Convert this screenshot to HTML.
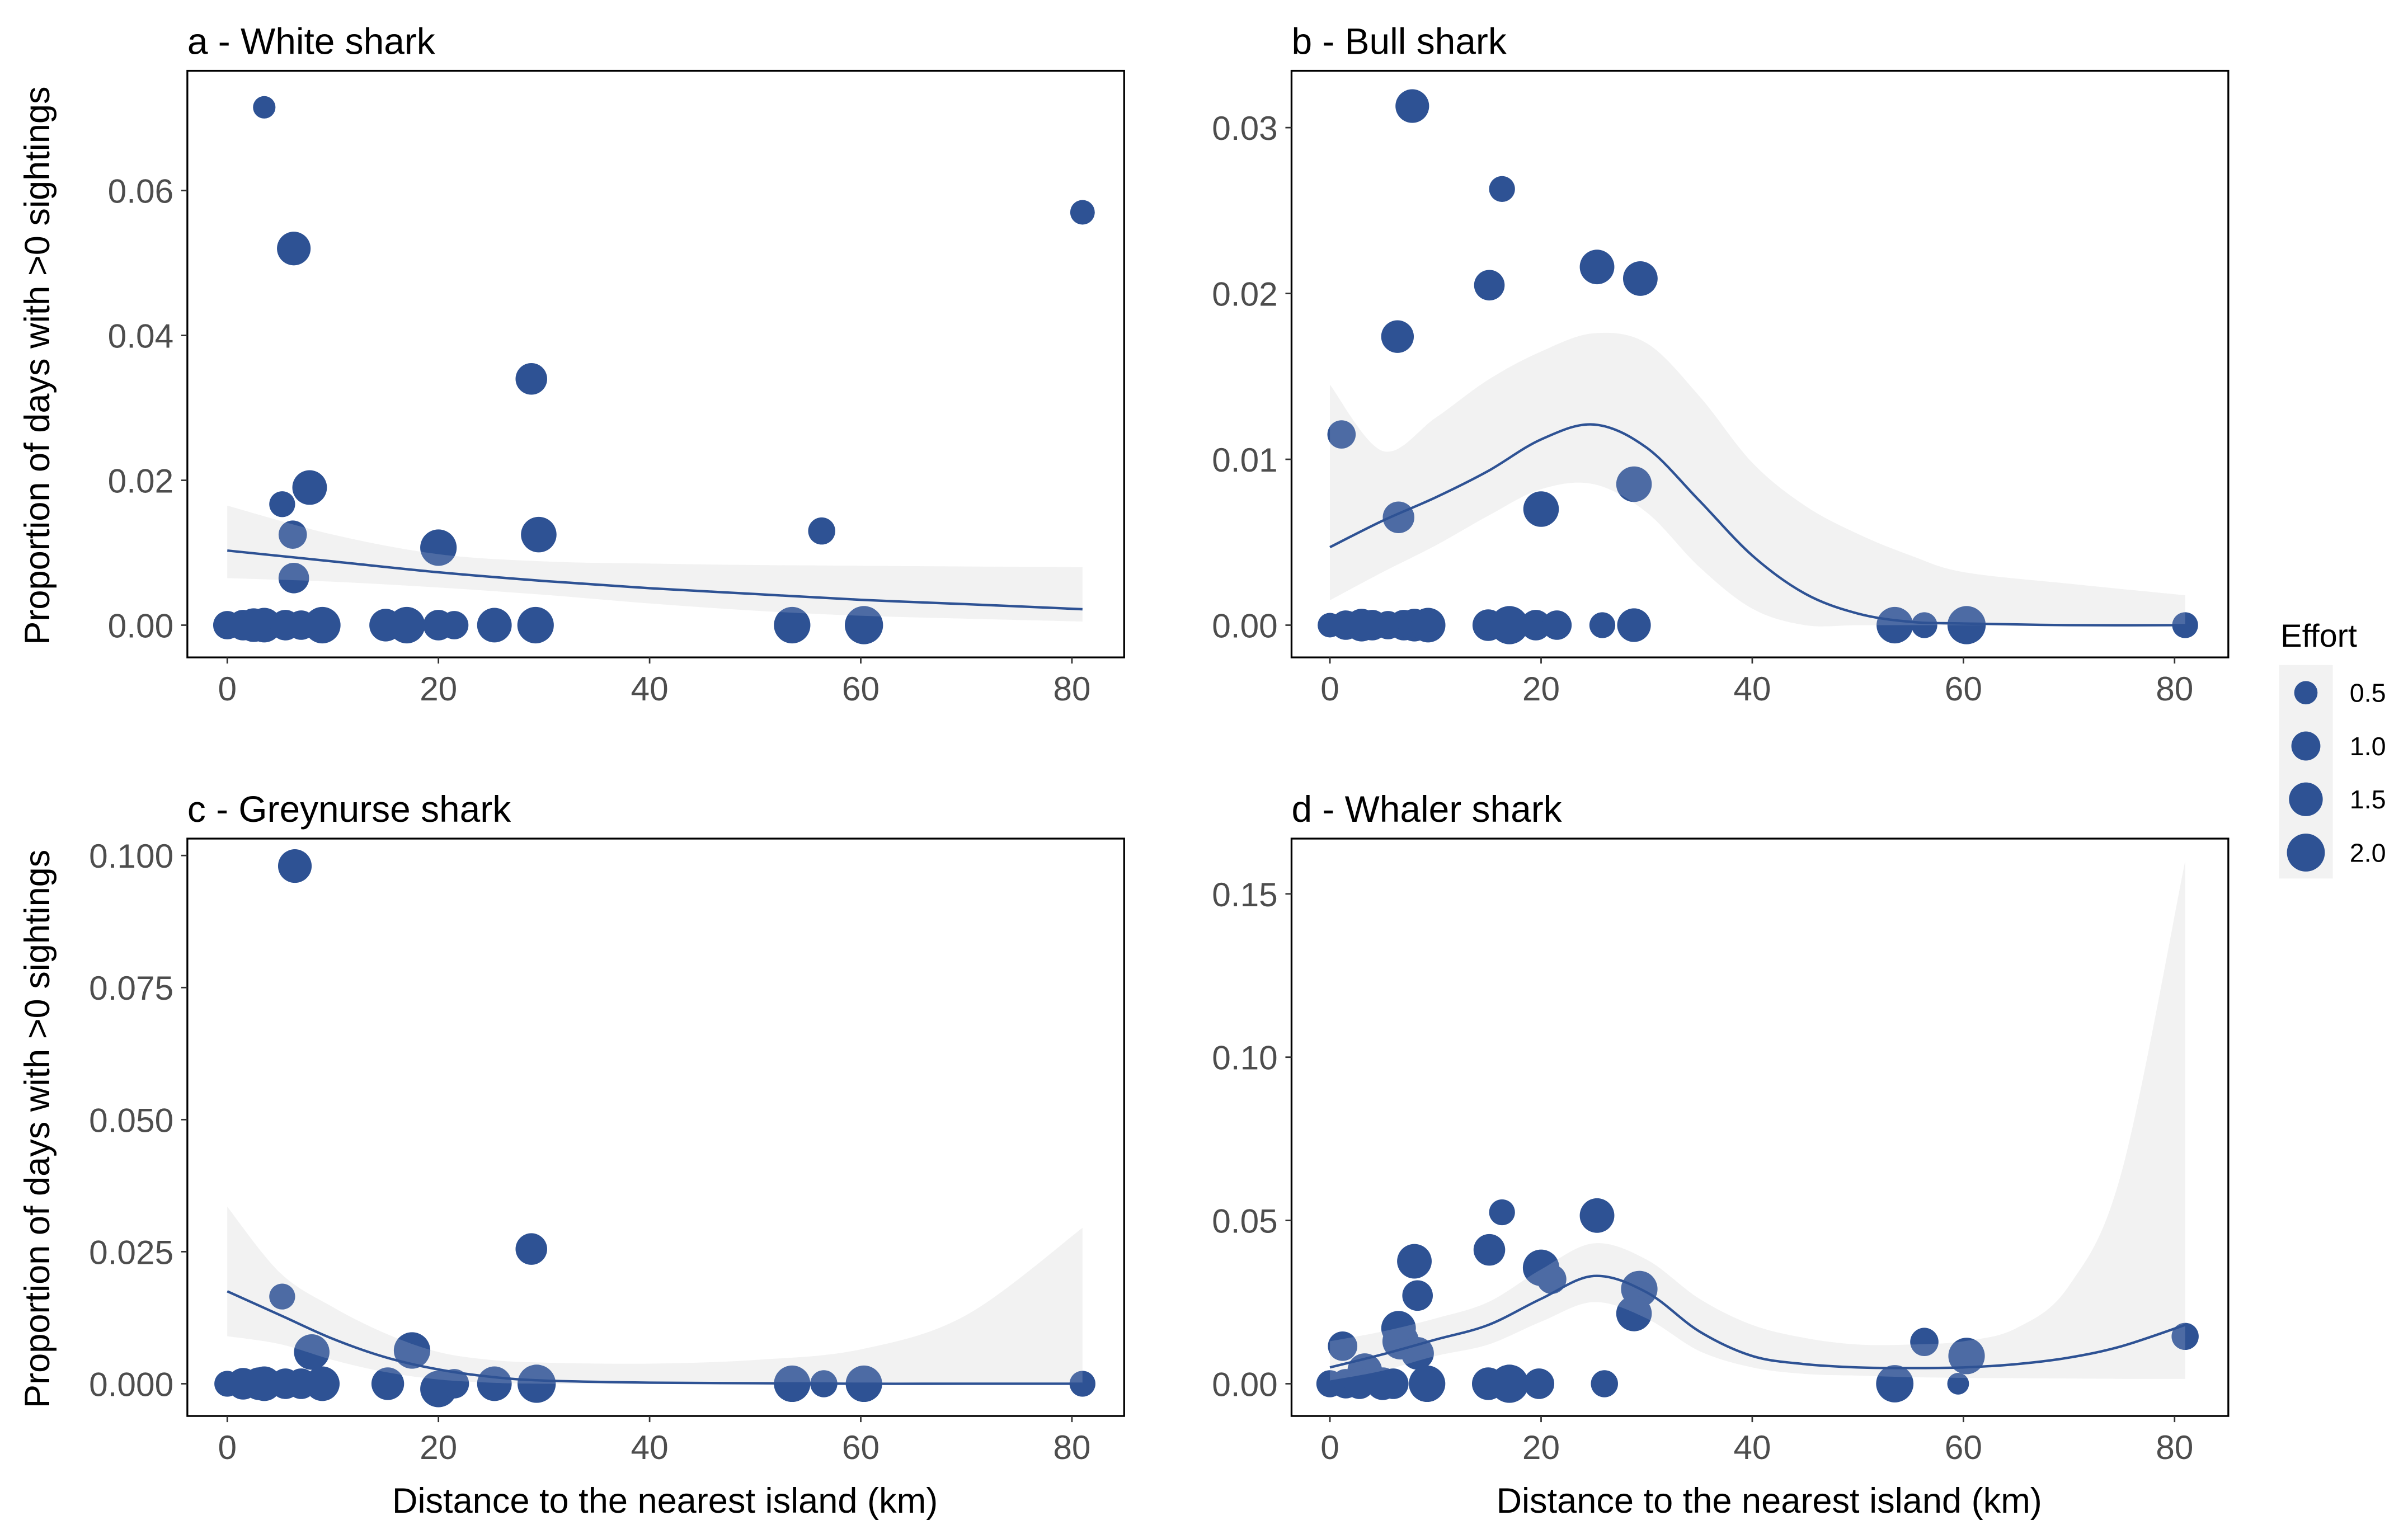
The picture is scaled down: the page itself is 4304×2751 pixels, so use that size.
<!DOCTYPE html>
<html><head><meta charset="utf-8">
<style>
html,body{margin:0;padding:0;background:#fff;}
svg{display:block;font-family:"Liberation Sans",Arial,sans-serif;}
</style></head>
<body>
<svg id="chart" width="4304" height="2751" viewBox="0 0 1568 1002" xmlns="http://www.w3.org/2000/svg"></svg>
<script>
// ---------- data ----------
const xTicks=[0,20,40,60,80];
const aTicks=[0,0.02,0.04,0.06], aTickLabels=["0.00","0.02","0.04","0.06"];
const bTicks=[0,0.01,0.02,0.03], bTickLabels=["0.00","0.01","0.02","0.03"];
const cTicks=[0,0.025,0.05,0.075,0.1], cTickLabels=["0.000","0.025","0.050","0.075","0.100"];
const dTicks=[0,0.05,0.1,0.15], dTickLabels=["0.00","0.05","0.10","0.15"];

const aX=[3.5,6.3,81,28.8,7.8,5.2,6.2,6.3,20,29.5,56.3,0,1.5,2.5,3.5,5.5,7,9,15,17,20,21.5,25.3,29.2,53.5,60.3];
const aY=[0.0715,0.052,0.057,0.034,0.019,0.0167,0.0125,0.0065,0.0107,0.0125,0.013,0,0,0,0,0,0,0,0,0,0,0,0,0,0,0];
const aE=[0.35,1.3,0.5,1.1,1.4,0.6,0.8,1.0,1.6,1.5,0.7,0.8,1.0,1.3,1.4,1.0,0.9,1.6,1.2,1.6,1.0,0.8,1.4,1.6,1.6,1.8];
const aFitX=[0,10,20,30,40,50,60,70,81];
const aFit=[0.0103,0.0088,0.0073,0.0061,0.0051,0.0043,0.0035,0.0029,0.0022];
const aHi=[0.0165,0.0125,0.0098,0.0088,0.0085,0.0083,0.0082,0.0081,0.008];
const aLo=[0.0065,0.006,0.0052,0.0042,0.0030,0.0020,0.0013,0.0009,0.0005];

const bX=[7.8,16.3,15.1,25.3,29.4,6.4,1.1,6.5,20,28.8,0,1.5,3,4,5.5,7,8,9.3,15,17,19.5,21.5,25.8,28.8,53.5,56.3,60.3,81];
const bY=[0.0313,0.0263,0.0205,0.0216,0.0209,0.0174,0.0115,0.0065,0.007,0.0085,0,0,0,0,0,0,0,0,0,0,0,0,0,0,0,0,0,0];
const bE=[1.3,0.6,1.0,1.4,1.4,1.2,0.8,1.1,1.5,1.5,0.5,0.9,1.2,1.0,0.8,1.0,1.2,1.4,1.1,1.8,1.0,0.9,0.6,1.3,1.6,0.6,1.8,0.6];
const bFitX=[0,5,10,15,20,25,30,35,40,45,50,55,60,70,81];
const bFit=[0.0047,0.0063,0.0077,0.0093,0.0112,0.0121,0.0107,0.0075,0.0042,0.0019,0.0007,0.0002,0.0001,0,0];
const bHi=[0.0145,0.0105,0.0125,0.0148,0.0165,0.0176,0.0170,0.0138,0.0098,0.0072,0.0055,0.0042,0.0032,0.0025,0.0018];
const bLo=[0.0015,0.0032,0.0048,0.0066,0.0082,0.0085,0.0068,0.0035,0.0010,0,0,0,0,0,0];

const cX=[6.4,28.8,5.2,8,17.5,0,1.5,3,3.5,5.5,7,9,15.2,20,21.5,25.3,29.3,53.5,56.5,60.3,81];
const cY=[0.098,0.0255,0.0165,0.006,0.0063,0,0,0,0,0,0,0,0,-0.001,0,0,0,0,0,0,0];
const cE=[1.3,1.1,0.6,1.5,1.6,0.6,1.1,1.2,1.4,1.0,1.0,1.4,1.2,1.6,0.9,1.4,1.8,1.6,0.7,1.6,0.6];
const cFitX=[0,5,10,15,20,25,30,40,50,60,70,81];
const cFit=[0.0175,0.013,0.0085,0.005,0.0027,0.0013,0.0006,0.0002,0.0001,0,0,0];
const cHi=[0.0335,0.021,0.0145,0.0095,0.006,0.0045,0.004,0.0038,0.0045,0.0065,0.013,0.0295];
const cLo=[0.009,0.0075,0.0045,0.0022,0.0008,0.0002,0,0,0,0,0,0];

const dX=[1.2,3.3,6.5,6.7,8.3,8,8.3,15.1,16.3,20,21,25.3,29.3,28.8,56.3,60.3,81,59.5,26,0,1.5,2.8,5,6,9.2,15,17,19.8,53.5];
const dY=[0.0115,0.004,0.017,0.013,0.0093,0.0375,0.027,0.041,0.0525,0.0355,0.032,0.0515,0.029,0.0215,0.0128,0.0085,0.0145,0,0,0,0,0,0,0,0,0,0,0,0];
const dE=[0.9,1.4,1.4,1.6,1.2,1.4,1.0,1.1,0.6,1.6,0.9,1.4,1.6,1.5,0.8,1.6,0.7,0.3,0.7,0.7,0.9,1.0,1.2,1.0,1.6,1.2,1.8,1.0,1.7];
const dFitX=[0,5,10,15,20,25,30,35,40,45,50,55,60,65,70,75,81];
const dFit=[0.005,0.009,0.0135,0.018,0.026,0.033,0.028,0.016,0.0085,0.006,0.005,0.0048,0.005,0.006,0.008,0.0115,0.018];
const dHi=[0.013,0.016,0.02,0.025,0.035,0.043,0.038,0.026,0.018,0.014,0.012,0.012,0.013,0.017,0.03,0.065,0.16];
const dLo=[0.001,0.004,0.0085,0.012,0.019,0.025,0.02,0.01,0.005,0.003,0.0025,0.002,0.0018,0.0017,0.0016,0.0015,0.0015];

const legendEfforts=[0.5,1.0,1.5,2.0];
const legendLabels=["0.5","1.0","1.5","2.0"];

// ---------- drawing ----------
const NS="http://www.w3.org/2000/svg";
const svg=document.getElementById('chart');
const COL="#2E5294";
function mk(tag,attrs,parent){const e=document.createElementNS(NS,tag);for(const k in attrs)e.setAttribute(k,attrs[k]);(parent||svg).appendChild(e);return e;}
function rad(e){return Math.sqrt(29+70*e);}
function smoothPath(pts){
  let d="M"+pts[0][0]+","+pts[0][1];
  for(let i=0;i<pts.length-1;i++){
    const p0=pts[Math.max(0,i-1)],p1=pts[i],p2=pts[i+1],p3=pts[Math.min(pts.length-1,i+2)];
    const c1x=p1[0]+(p2[0]-p0[0])/6,c1y=p1[1]+(p2[1]-p0[1])/6;
    const c2x=p2[0]-(p3[0]-p1[0])/6,c2y=p2[1]-(p3[1]-p1[1])/6;
    d+=" C"+c1x+","+c1y+" "+c2x+","+c2y+" "+p2[0]+","+p2[1];
  }
  return d;
}
function panel(o){
  const g=mk('g',{});
  
  
  const sx=v=>o.x0+(v)*(o.x80-o.x0)/80;
  const sy=v=>o.y0+(v-o.t0)*(o.yt-o.y0)/(o.tv-o.t0);
  const t=mk('text',{x:o.bx,y:o.by-11,'font-size':24,fill:'#000'},g);t.textContent=o.title;
  
  const up=o.fx.map((x,i)=>[sx(x),sy(o.hi[i])]);
  const lo=o.fx.map((x,i)=>[sx(x),sy(o.lo[i])]).reverse();
  const ribD=smoothPath(up)+" "+smoothPath(lo).replace(/^M/,"L")+" Z";
  const rb=mk('path',{d:ribD,fill:'#f0f0f0'},g);
  
  o.px.forEach((xv,i)=>{
    const c=mk('circle',{cx:sx(xv),cy:sy(o.py[i]),r:rad(o.pe[i]),fill:COL},g);
    
    
  });
  const rb2=mk('path',{d:ribD,fill:'#ffffff','fill-opacity':0.15},g);
  
  const ln=mk('path',{d:smoothPath(o.fx.map((x,i)=>[sx(x),sy(o.fit[i])])),fill:'none',stroke:COL,'stroke-width':1.6},g);
  
  const bx=mk('rect',{x:o.bx,y:o.by,width:610,height:o.bh,fill:'none',stroke:'#000','stroke-width':1.2},g);
  
  xTicks.forEach(v=>{
    mk('line',{x1:sx(v),x2:sx(v),y1:o.by+o.bh,y2:o.by+o.bh+4,stroke:'#333','stroke-width':1},g);
    const tx=mk('text',{x:sx(v),y:o.by+o.bh+28,'font-size':22,fill:'#4d4d4d','text-anchor':'middle'},g);
    tx.textContent=v;
    
  });
  o.ticks.forEach((v,i)=>{
    mk('line',{x1:o.bx-4,x2:o.bx,y1:sy(v),y2:sy(v),stroke:'#333','stroke-width':1},g);
    const ty=mk('text',{x:o.bx-9,y:sy(v)+8,'font-size':22,fill:'#4d4d4d','text-anchor':'end'},g);
    ty.textContent=o.labels[i];
    
  });
}
panel({name:'panel-a-white-shark',title:'a - White shark',bx:122,by:46,bh:382,x0:148,x80:698,y0:407,t0:0,yt:124,tv:0.06,
  ticks:aTicks,labels:aTickLabels,px:aX,py:aY,pe:aE,fx:aFitX,fit:aFit,hi:aHi,lo:aLo});
panel({name:'panel-b-bull-shark',title:'b - Bull shark',bx:841,by:46,bh:382,x0:866,x80:1416,y0:407,t0:0,yt:83,tv:0.03,
  ticks:bTicks,labels:bTickLabels,px:bX,py:bY,pe:bE,fx:bFitX,fit:bFit,hi:bHi,lo:bLo});
panel({name:'panel-c-greynurse-shark',title:'c - Greynurse shark',bx:122,by:546,bh:376,x0:148,x80:698,y0:901,t0:0,yt:557,tv:0.1,
  ticks:cTicks,labels:cTickLabels,px:cX,py:cY,pe:cE,fx:cFitX,fit:cFit,hi:cHi,lo:cLo});
panel({name:'panel-d-whaler-shark',title:'d - Whaler shark',bx:841,by:546,bh:376,x0:866,x80:1416,y0:901,t0:0,yt:582,tv:0.15,
  ticks:dTicks,labels:dTickLabels,px:dX,py:dY,pe:dE,fx:dFitX,fit:dFit,hi:dHi,lo:dLo});

[[238,'y-axis-title-top'],[735,'y-axis-title-bottom']].forEach(([cy,n])=>{
  const t=mk('text',{x:0,y:0,'font-size':23,fill:'#000','text-anchor':'middle',transform:`translate(32,${cy}) rotate(-90)`});
  t.textContent='Proportion of days with >0 sightings';
  
});
[[433,'x-axis-title-left'],[1152,'x-axis-title-right']].forEach(([cx,n])=>{
  const t=mk('text',{x:cx,y:985,'font-size':23,fill:'#000','text-anchor':'middle'});
  t.textContent='Distance to the nearest island (km)';
  
});
const lg=mk('g',{});


const lt=mk('text',{x:1485,y:421,'font-size':21,fill:'#000'},lg);lt.textContent='Effort';

mk('rect',{x:1484,y:433,width:35,height:139,fill:'#f2f2f2'},lg);
legendEfforts.forEach((e,i)=>{
  const cy=451+i*34.7;
  const c=mk('circle',{cx:1501.5,cy:cy,r:rad(e)*0.95,fill:COL},lg);
  
  const tx=mk('text',{x:1530,y:cy+6,'font-size':17,fill:'#000'},lg);tx.textContent=legendLabels[i];
  
});
</script>
</body></html>
